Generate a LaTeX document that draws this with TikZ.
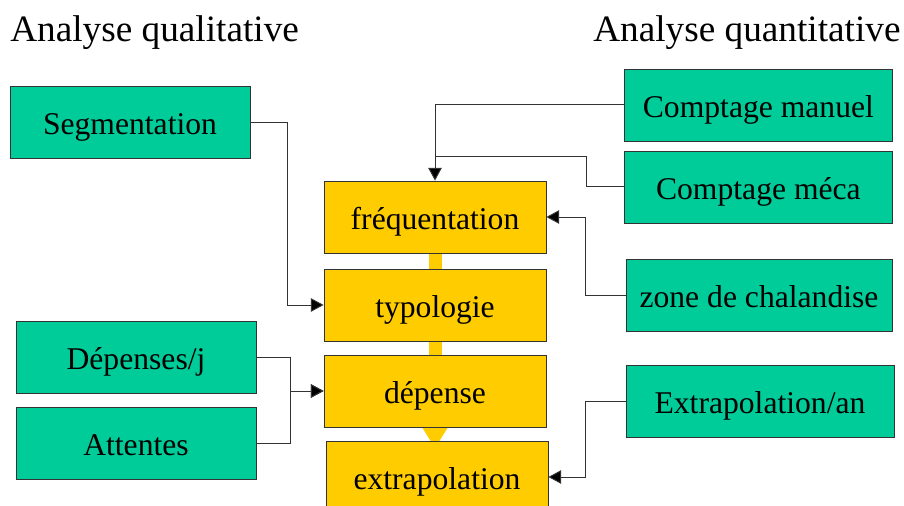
\documentclass[tikz,border=0pt]{standalone}
\usepackage{fontspec}
\setmainfont{Liberation Serif}
\usepackage{tikz}
\usetikzlibrary{arrows.meta,calc,backgrounds}
\definecolor{anagreen}{HTML}{00CC99}
\definecolor{anayellow}{HTML}{FFCC00}
\definecolor{anaink}{HTML}{333333}

\begin{document}
\begin{tikzpicture}[line cap=butt,line join=miter,
  box/.style={draw=anaink,line width=.6pt,inner sep=0pt,minimum height=1.8cm,
    text height=.625cm,text depth=0pt,font=\rmfamily\fontsize{22.5}{26}\selectfont},
  src/.style={box,fill=anagreen,minimum width=6cm},
  srcr/.style={box,fill=anagreen,minimum width=6.72cm},
  etape/.style={box,fill=anayellow,minimum width=5.55cm},
  titre/.style={font=\rmfamily\fontsize{26.5}{32}\selectfont,inner sep=0pt},
  arr/.style={-{Triangle[length=.32cm,width=.34cm,fill=black]},anaink,line width=.7pt}]
\path[use as bounding box] (0,0) rectangle (22.6,12.65);
% titres
\node[titre,anchor=base west] (tqual) at (.25,11.6) {Analyse qualitative};
\node[titre,anchor=base east] (tquant) at (22.52,11.6) {Analyse quantitative};
% colonne centrale
\node[etape] (freq) at (10.875,7.225) {fréquentation};
\node[etape] (typo) at (10.875,5.025) {typologie};
\node[etape] (depn) at (10.875,2.875) {dépense};
\node[etape] (extr) at (10.925,.725) {extrapolation};
% sources qualitatives
\node[src] (seg) at (3.25,9.5875) {Segmentation};
\node[src] (depj) at (3.4,3.725) {Dépenses/j};
\node[src] (att) at (3.4,1.575) {Attentes};
% sources quantitatives
\node[srcr] (cman) at (18.96,10.025) {Comptage manuel};
\node[srcr] (cmeca) at (18.96,7.975) {Comptage méca};
\node[srcr,minimum width=6.65cm] (zone) at (18.975,5.275) {zone de chalandise};
\node[srcr,minimum width=6.7cm] (extan) at (19.0,2.625) {Extrapolation/an};
% fleche de fond
\coordinate (bout) at ($(depn.south)+(0,-.52)$);
\begin{scope}[on background layer]
\draw[anayellow,line width=.325cm,-{Triangle[length=.6cm,width=.7cm]}] (freq.center)--(bout);
\end{scope}
% liaisons
\coordinate (jonc) at ($(freq.north)+(0,.6)$);
\draw[arr] (seg.east)--++(.925,0)|-(typo.west);
\draw[arr] (cman.west)-|(freq.north);
\draw[anaink,line width=.7pt] (cmeca.west)--++(-.925,0)|-(jonc);
\draw[arr] (zone.west)--++(-1,0)|-(freq.east);
\draw[arr] (depj.east)--++(.85,0)|-(depn.west);
\draw[arr] (att.east)--++(.85,0)|-(depn.west);
\draw[arr] (extan.west)--++(-1,0)|-(extr.east);
\end{tikzpicture}
\end{document}
